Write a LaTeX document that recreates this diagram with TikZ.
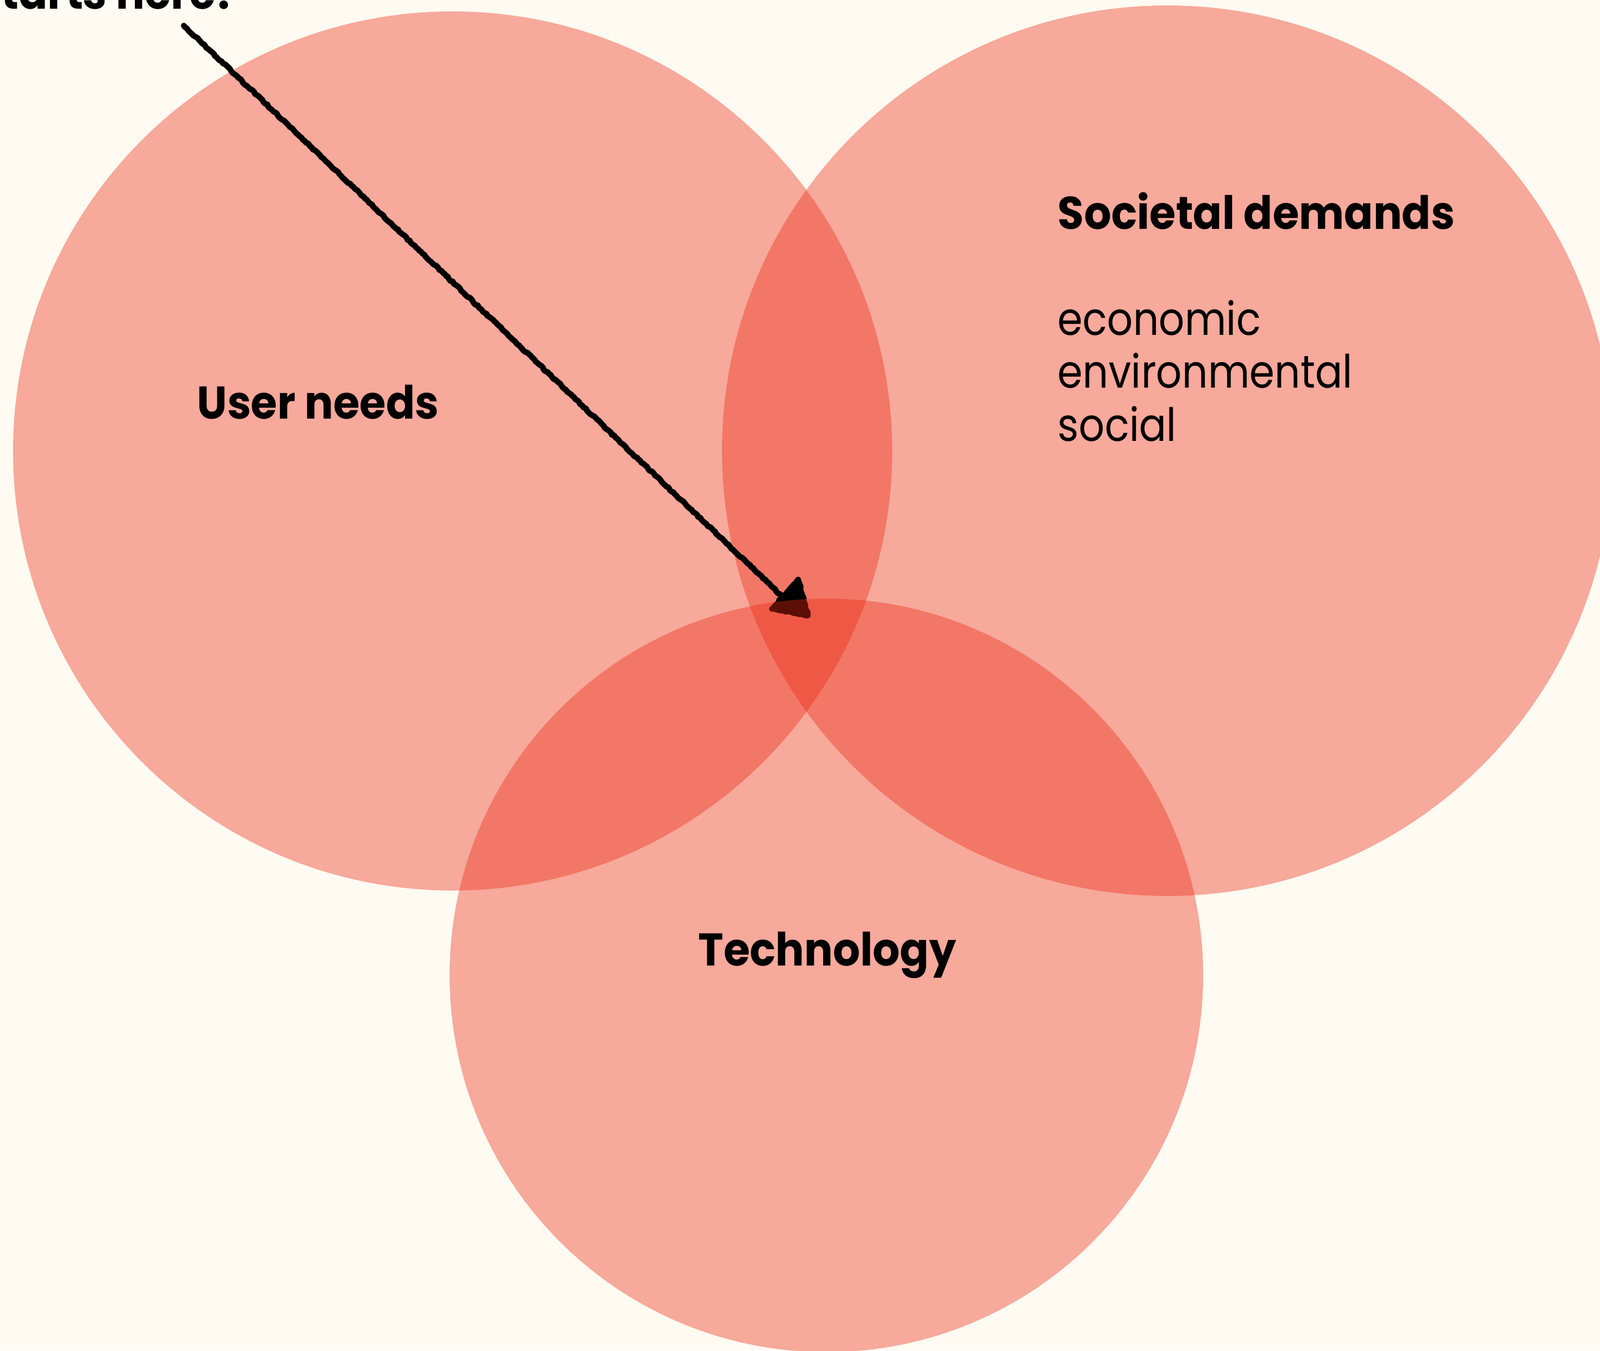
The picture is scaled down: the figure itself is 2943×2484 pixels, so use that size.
\documentclass[tikz,border=0pt]{standalone}
\usepackage{fontspec}
\usepackage{graphicx}
\setmainfont{Poppins}
\usetikzlibrary{decorations.pathmorphing}
\definecolor{bgcream}{RGB}{255,251,242}
\definecolor{vennred}{RGB}{235,41,19}
\newcommand{\hdtext}[1]{\scalebox{0.93}[1]{\fontsize{24}{29}\selectfont\bfseries #1}}
\newcommand{\pltext}[1]{\scalebox{0.88}[1]{\fontsize{24}{29}\selectfont #1}}
\tikzset{
  venn/.style={fill=vennred, fill opacity=0.39},
  heading/.style={anchor=base west, inner sep=0pt},
  rough/.style={draw=black, line width=3pt, line cap=round, line join=round,
    decorate, decoration={random steps, segment length=1.2pt, amplitude=0.35pt}},
}
\begin{document}
\begin{tikzpicture}[x=0.01cm, y=-0.01cm]
\fill[bgcream] (0,0) rectangle (2943,2484);
\useasboundingbox (0,0) rectangle (2943,2484);
\clip (0,0) rectangle (2943,2484);
% circles
\fill[venn] (832.5,829.5) circle[radius=808.5];
\fill[venn] (2147,829) circle[radius=819];
% arrow
\coordinate (start) at (338,47);
\coordinate (headin) at (1446,1104);
\coordinate (hA) at (1468,1066);
\coordinate (hB) at (1420,1120);
\coordinate (hC) at (1486,1132);
\draw[rough] (start) -- (headin);
\filldraw[rough, fill=black] (hA) -- (hB) -- (hC) -- cycle;
\fill[venn] (1520,1794) circle[radius=693];
% texts
\node[heading, anchor=base east] (starts) at (428,16) {\hdtext{starts here!}};
\node[heading] (user) at (362,770) {\hdtext{User needs}};
\node[heading] (soc) at (1945,421) {\hdtext{Societal demands}};
\node[heading] (eco) at (1945,616) {\pltext{economic}};
\node[heading] (env) at (1945,713) {\pltext{environmental}};
\node[heading] (social) at (1945,811) {\pltext{social}};
\node[heading] (tech) at (1284,1776) {\hdtext{Technology}};
\end{tikzpicture}
\end{document}
